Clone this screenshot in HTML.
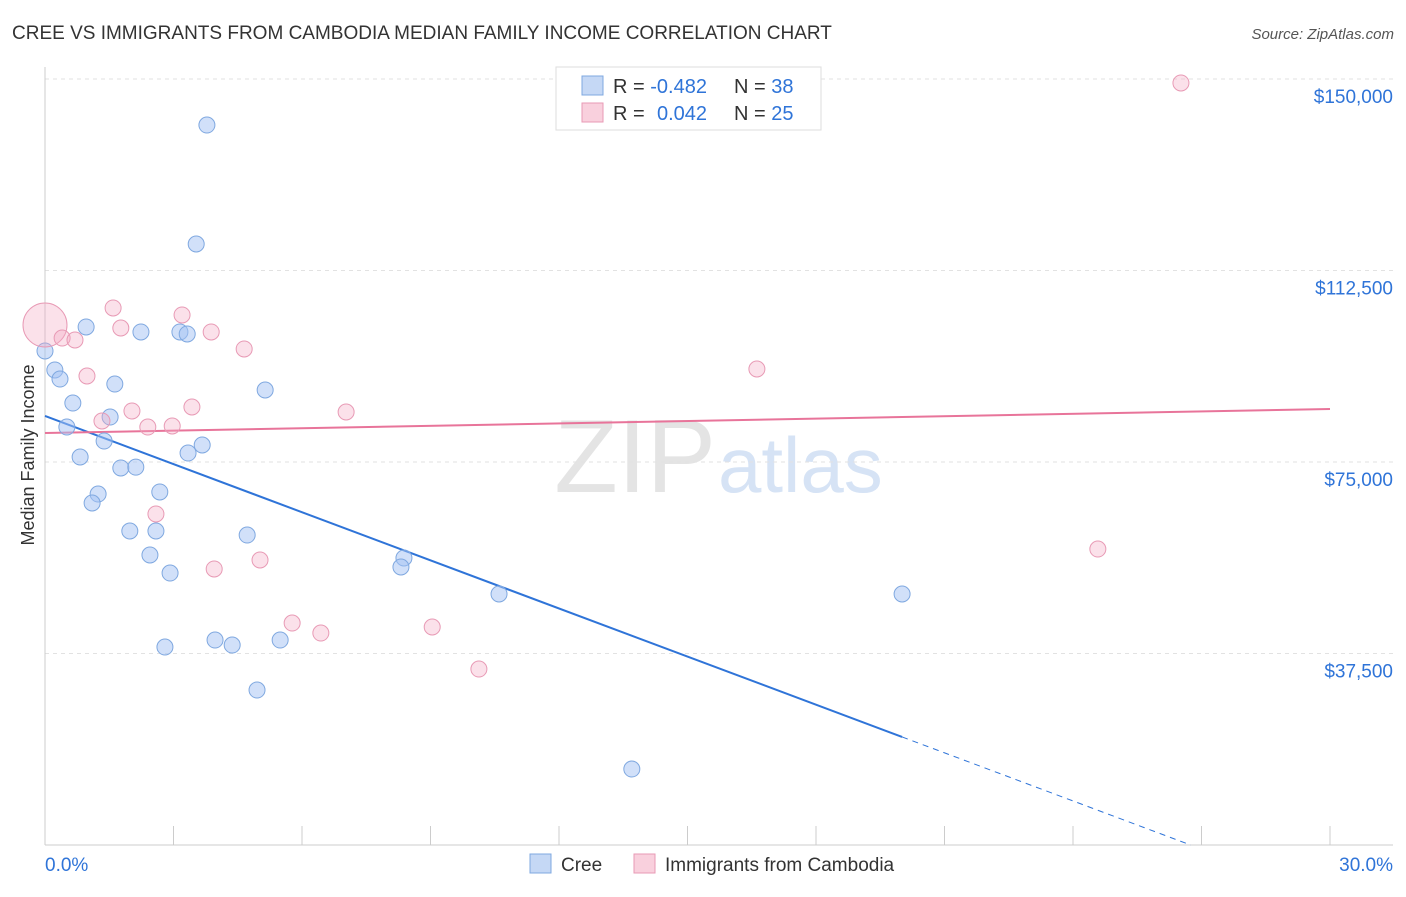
<!DOCTYPE html>
<html><head><meta charset="utf-8"><style>
body{margin:0;background:#fff;font-family:"Liberation Sans",sans-serif;}
svg text{font-family:"Liberation Sans",sans-serif;}
</style></head><body>
<svg id="chart" width="1406" height="892">
<text x="12" y="39" font-size="19" fill="#333">CREE VS IMMIGRANTS FROM CAMBODIA MEDIAN FAMILY INCOME CORRELATION CHART</text>
<text x="1394" y="39" font-size="15" fill="#555" font-style="italic" text-anchor="end">Source: ZipAtlas.com</text>
<text x="716" y="492" font-size="104" fill="#e4e4e4" text-anchor="end" font-family="Liberation Serif">ZIP</text>
<text x="718" y="492" font-size="78" fill="#d6e3f5">atlas</text>
<g id="grid"></g><g id="axes"></g><g id="lines"></g><g id="dots"></g>
<text x="34" y="455" font-size="18" fill="#333" text-anchor="middle" transform="rotate(-90 34 455)">Median Family Income</text>
<g>
<rect x="556" y="67" width="265" height="63" fill="#fff" stroke="#ddd"/>
<rect x="582" y="76" width="21" height="19" fill="#c5d8f5" stroke="#7fa8e0"/>
<rect x="582" y="103" width="21" height="19" fill="#f9d0dd" stroke="#e89ab5"/>
<text x="613" y="93" font-size="20" fill="#333">R = <tspan fill="#2f74d8">-0.482</tspan></text>
<text x="734" y="93" font-size="20" fill="#333">N = <tspan fill="#2f74d8">38</tspan></text>
<text x="613" y="120" font-size="20" fill="#333">R = <tspan fill="#2f74d8" x="657">0.042</tspan></text>
<text x="734" y="120" font-size="20" fill="#333">N = <tspan fill="#2f74d8">25</tspan></text>
</g>
<g>
<rect x="530" y="854" width="21" height="19" fill="#c5d8f5" stroke="#7fa8e0"/>
<text x="561" y="871" font-size="19" fill="#333">Cree</text>
<rect x="634" y="854" width="21" height="19" fill="#f9d0dd" stroke="#e89ab5"/>
<text x="665" y="871" font-size="19" fill="#333">Immigrants from Cambodia</text>
</g>
</svg>
<script>
const yTicks=[37500,75000,112500,150000];
const yTickLabels=["$37,500","$75,000","$112,500","$150,000"];
const xTickLabels=["0.0%","30.0%"];
const creeX=[3.78,3.53,0.96,2.24,3.15,3.32,0,0.23,0.35,1.63,5.14,0.65,1.52,0.51,1.38,3.67,3.34,0.82,1.77,2.12,1.24,2.68,1.10,1.98,2.59,4.72,2.45,8.38,8.31,2.92,10.60,20.01,3.97,4.37,5.49,2.80,4.95,13.70];
const creeY=[140990,117690,101440,100460,100460,100070,96740,93020,91250,90270,89100,86550,83810,81850,79110,78330,76760,75980,73830,73990,68730,69130,66970,61490,61490,60700,56790,56200,54440,53260,49150,49150,40140,39160,40140,38770,30350,14880];
const cambX=[26.52,0,1.59,3.20,0.40,0.70,1.77,3.88,4.65,0.98,16.62,3.43,2.03,7.03,1.33,2.40,2.97,2.59,24.58,5.02,3.95,5.77,6.44,9.04,10.13];
const cambY=[149220,101830,105160,103790,99280,98890,101240,100460,97130,91840,93210,85770,84990,84790,83030,81850,82050,64820,57960,55810,54050,43470,41510,42690,34460];
const cambR=[8,22,8,8,8,8,8,8,8,8,8,8,8,8,8,8,8,8,8,8,8,8,8,8,8];
const creeTrend=[84010,-3141];
const cambTrend=[80680,156.7];
const NS="http://www.w3.org/2000/svg";
const X=v=>45+v/30*1285, Y=v=>79+(150000-v)/37500*191.5;
function mk(p,t,a){const e=document.createElementNS(NS,t);for(const k in a)e.setAttribute(k,a[k]);document.getElementById(p).appendChild(e);return e;}
yTicks.forEach((t,i)=>{
 const g=mk('grid','line',{x1:45,x2:1393,y1:Y(t),y2:Y(t),stroke:'#e2e2e2','stroke-dasharray':'4,4'});
 
 
 const l=mk('grid','text',{x:1393,y:Y(t)+24,'text-anchor':'end','font-size':19,fill:'#2f74d8'});
 l.textContent=yTickLabels[i];
 
 
});
const ax=mk('axes','line',{x1:45,x2:45,y1:67,y2:845,stroke:'#ccc'});


const bx=mk('axes','line',{x1:45,x2:1393,y1:845,y2:845,stroke:'#ccc'});


for(let i=0;i<=10;i++){const t=mk('axes','line',{x1:X(i*3),x2:X(i*3),y1:826,y2:845,stroke:'#ccc'});
 
 }
[[0,'start',45],[30,'end',1393]].forEach((d,i)=>{const l=mk('axes','text',{x:d[2],y:871,'text-anchor':d[1],'font-size':19,fill:'#2f74d8'});l.textContent=xTickLabels[i];
 
 });
const ct=x=>creeTrend[0]+creeTrend[1]*x;
let xe=20.01;
const bl=mk('lines','line',{x1:X(0),y1:Y(ct(0)),x2:X(xe),y2:Y(ct(xe)),stroke:'#2f74d8','stroke-width':2});


const x0=-creeTrend[0]/creeTrend[1];
const bd=mk('lines','line',{x1:X(xe),y1:Y(ct(xe)),x2:X(x0),y2:Y(0),stroke:'#2f74d8','stroke-width':1,'stroke-dasharray':'6,5'});


const pl=mk('lines','line',{x1:X(0),y1:Y(cambTrend[0]),x2:X(30),y2:Y(cambTrend[0]+cambTrend[1]*30),stroke:'#e8749a','stroke-width':2});


creeX.forEach((x,i)=>{const c=mk('dots','circle',{cx:X(x),cy:Y(creeY[i]),r:8,fill:'rgba(164,194,244,0.5)',stroke:'#7fa8e0','stroke-width':1});
 
 });
cambX.forEach((x,i)=>{const c=mk('dots','circle',{cx:X(x),cy:Y(cambY[i]),r:cambR[i],fill:'rgba(244,170,195,0.35)',stroke:'#e89ab5','stroke-width':1});
 
 });
</script>
</body></html>
